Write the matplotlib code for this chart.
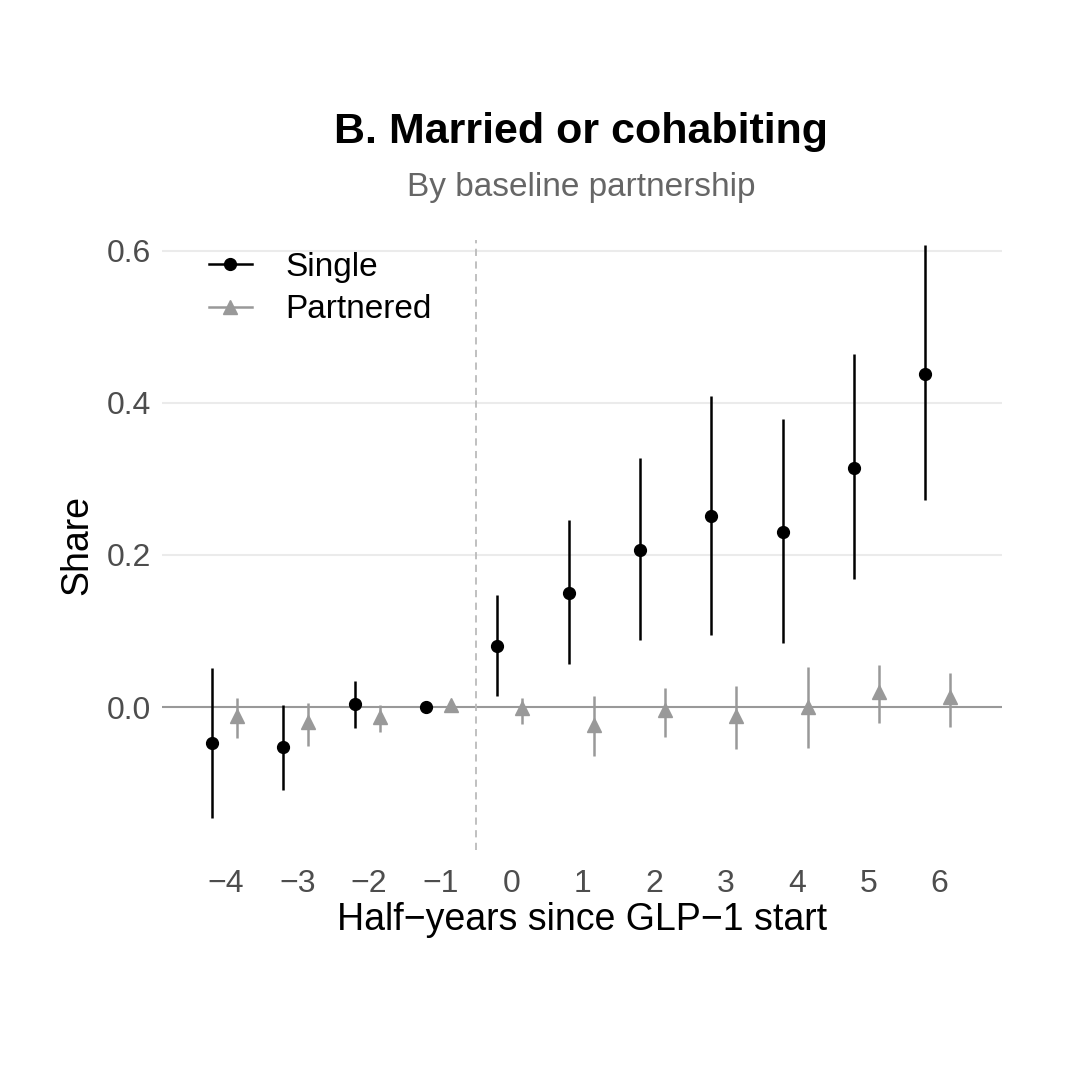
import matplotlib
matplotlib.use("Agg")
import matplotlib.pyplot as plt
from matplotlib.lines import Line2D

plt.rcParams["font.family"] = ["Liberation Sans", "DejaVu Sans"]

periods = [-4, -3, -2, -1, 0, 1, 2, 3, 4, 5, 6]
tick_labels = ["\u22124", "\u22123", "\u22122", "\u22121", "0", "1", "2", "3", "4", "5", "6"]

single_est = [-0.047, -0.053, 0.004, 0.0, 0.080, 0.150, 0.207, 0.251, 0.230, 0.314, 0.438]
single_lo = [-0.146, -0.109, -0.028, 0.0, 0.014, 0.057, 0.088, 0.095, 0.084, 0.168, 0.272]
single_hi = [0.051, 0.003, 0.034, 0.0, 0.147, 0.246, 0.328, 0.409, 0.378, 0.464, 0.607]

partner_est = [-0.012, -0.020, -0.013, 0.003, -0.001, -0.024, -0.004, -0.012, 0.0, 0.020, 0.013]
partner_lo = [-0.041, -0.051, -0.033, 0.003, -0.022, -0.064, -0.039, -0.055, -0.054, -0.021, -0.026]
partner_hi = [0.012, 0.005, 0.003, 0.003, 0.012, 0.014, 0.025, 0.028, 0.053, 0.055, 0.045]

BLACK = "#000000"
GREY = "#999999"

fig = plt.figure(figsize=(10.8, 10.76), dpi=100)
ax = fig.add_axes([0.15, 0.21, 0.778, 0.567])

for y in [0.2, 0.4, 0.6]:
    ax.axhline(y, color="#ebebeb", linewidth=1.5, zorder=0)
ax.axhline(0, color="#999999", linewidth=1.5, zorder=1)
ax.axvline(-0.5, color="#bbbbbb", linestyle=(0, (4, 3)), linewidth=1.3, zorder=1)

xs = [p - 0.2 for p in periods]
xp = [p + 0.15 for p in periods]
ax.vlines(xs, single_lo, single_hi, color=BLACK, linewidth=1.8, zorder=3)
ax.plot(xs, single_est, "o", color=BLACK, markersize=8.5, zorder=4)
ax.vlines(xp, partner_lo, partner_hi, color=GREY, linewidth=1.8, zorder=2)
ax.plot(xp, partner_est, "^", color=GREY, markersize=10, zorder=3)

ax.set_xlim(-4.9, 6.88)
ax.set_ylim(-0.188, 0.614)
ax.set_xticks(periods)
ax.set_xticklabels(tick_labels)
ax.set_yticks([0.0, 0.2, 0.4, 0.6])
ax.set_yticklabels(["0.0", "0.2", "0.4", "0.6"])
ax.tick_params(length=0, labelsize=23, labelcolor="#4d4d4d", pad=8)
ax.tick_params(axis="x", pad=14)
for s in ax.spines.values():
    s.set_visible(False)

ax.set_xlabel("Half\u2212years since GLP\u22121 start", fontsize=27, labelpad=2)
ax.set_ylabel("Share", fontsize=27, labelpad=8)

handles = [
    Line2D([0], [0], color=BLACK, marker="o", markersize=8.5, linewidth=1.8),
    Line2D([0], [0], color=GREY, marker="^", markersize=10, linewidth=1.8),
]
ax.legend(handles, ["Single", "Partnered"], loc="upper left", bbox_to_anchor=(0.02, 1.03),
          frameon=False, fontsize=24, handlelength=1.3, handletextpad=1.0, labelspacing=0.35)

fig.text(0.538, 0.877, "B. Married or cohabiting", ha="center", va="center",
         fontsize=31, fontweight="bold")
fig.text(0.538, 0.826, "By baseline partnership", ha="center", va="center",
         fontsize=24, color="#666666")

fig.savefig("out.png", dpi=100)
